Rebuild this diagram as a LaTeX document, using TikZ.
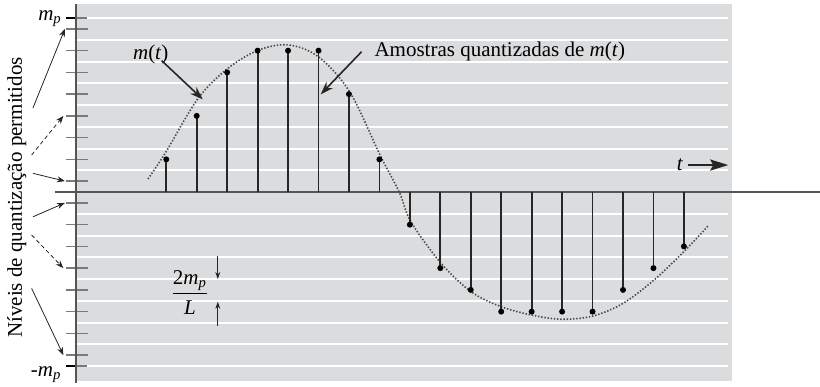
\documentclass[tikz,border=0pt]{standalone}
\usepackage{amsmath}
\usepackage{fontspec}
\setmainfont{Liberation Serif}
\usetikzlibrary{arrows.meta,positioning}
\definecolor{PanelGray}{HTML}{DBDCDE}
\definecolor{AxisGray}{HTML}{555555}
\definecolor{TickGray}{HTML}{7A7A7A}
\definecolor{InkDark}{HTML}{262626}

\begin{document}
\begin{tikzpicture}[x=10.875pt,y=10.875pt,
  font=\fontsize{10.5}{12}\selectfont,
  axisline/.style={AxisGray,line width=0.7pt},
  levtick/.style={TickGray,line width=0.8pt},
  stemline/.style={InkDark,line width=0.9pt},
  pointer/.style={-{Stealth[length=4pt,width=3pt]},InkDark,line width=0.4pt},
  gapdash/.style={dash pattern=on 2pt off 1.5pt},
  callout/.style={-{Stealth[length=6.5pt,width=4.5pt]},InkDark,line width=0.8pt},
  sizearrow/.style={-{Stealth[length=3.5pt,width=2.5pt]},InkDark,line width=0.45pt}]
\useasboundingbox (-3.494,-8.920) rectangle (34.207,8.828);
\fill[PanelGray] (0,-8.69) rectangle (30.15,8.64);
\foreach \k in {1,...,8} {
  \draw[white,line width=1pt] (0.05,\k) -- (30.0,\k);
  \draw[white,line width=1pt] (0.05,-\k) -- (30.0,-\k);
}
\foreach \k in {0,...,7} {
  \draw[levtick] (-0.46,\k+0.5) -- (0.55,\k+0.5);
  \draw[levtick] (-0.46,-\k-0.5) -- (0.55,-\k-0.5);
}
\draw[levtick] (0,8) -- (0.5,8);
\draw[levtick] (0,-8) -- (0.5,-8);
\draw[black,line width=1.3pt] (-0.46,8) -- (0,8);
\draw[black,line width=1.3pt] (-0.46,-8) -- (0,-8);
\draw[axisline] (0,8.64) -- (0,-8.78);
\draw[axisline] (-0.97,0) -- (34.2,0);

\node[anchor=base west] (mp) at (-2.06,7.88) {\textit{m}\textsubscript{\textit{p}}};
\node[anchor=base west] (mmp) at (-2.4,-8.49) {-\textit{m}\textsubscript{\textit{p}}};
\node[rotate=90] (levels) at (-2.72,-0.25) {Níveis de quantização permitidos};

\foreach \i/\sx/\sy/\tx/\ty/\lt in {1/-1.98/3.86/-0.51/7.5/solid, 2/-2.04/1.70/-0.58/3.5/gapdash,
    3/-1.98/0.86/-0.51/0.5/solid, 4/-1.98/-1.14/-0.51/-0.5/solid,
    5/-2.04/-1.98/-0.58/-3.5/gapdash, 6/-2.04/-4.43/-0.58/-7.5/solid} {
  \coordinate (from\i) at (\sx,\sy);
  \coordinate (lev\i) at (\tx,\ty);
  \draw[pointer,\lt] (from\i) -- (lev\i);
}

\draw[InkDark!85,line width=0.8pt,dash pattern=on 0.7pt off 0.9pt]
  plot[smooth,tension=0.55] coordinates {(3.31,0.6) (4.14,1.85) (5.61,4.3) (6.99,5.69)
  (8.41,6.53) (9.79,6.76) (11.17,6.2) (12.60,4.58) (13.98,1.7) (14.86,0) (15.40,-1.37)
  (16.78,-3.27) (18.16,-4.58) (19.54,-5.27) (20.97,-5.66) (22.34,-5.85) (23.77,-5.7)
  (25.15,-5.12) (26.57,-4.05) (27.95,-2.74) (29.06,-1.56)};

\foreach \n/\v in {0/1.5,1/3.5,2/5.5,3/6.5,4/6.5,5/6.5,6/4.5,7/1.5,8/-1.5,9/-3.5,
    10/-4.5,11/-5.5,12/-5.5,13/-5.5,14/-5.5,15/-4.5,16/-3.5,17/-2.5} {
  \draw[stemline] (4.15+1.4*\n,0) -- (4.15+1.4*\n,\v);
  \fill[black] (4.15+1.4*\n,\v) circle[radius=1.5pt];
}

\node[anchor=base west] (mlab) at (2.3,6.11) {\textit{m}(\textit{t})};
\coordinate (mcurve) at (5.83,4.26);
\draw[callout] (3.94,6.04) coordinate (mfrom) -- (mcurve);
\node[anchor=base west] (qlab) at (13.4,6.22) {Amostras quantizadas de \textit{m}(\textit{t})};
\coordinate (qstem) at (11.25,4.49);
\draw[callout] (13.13,6.45) coordinate (qfrom) -- (qstem);

\node[anchor=base west] (tlab) at (27.3,0.98) {\textit{t}};
\coordinate (tend) at (29.99,1.24);
\draw[-{Stealth[length=9pt,width=5.5pt,inset=1.5pt]},InkDark,line width=1.2pt]
  (28.15,1.24) coordinate (tfrom) -- (tend);

\node (delta) at (5.24,-4.6) {$\dfrac{\text{2}\textit{m}_{\textit{p}}}{\textit{L}}$};
\coordinate (upper) at (6.52,-4.0);
\coordinate (lower) at (6.52,-5.05);
\draw[sizearrow] (6.52,-2.95) coordinate (ufrom) -- (upper);
\draw[sizearrow] (6.52,-6.15) coordinate (lfrom) -- (lower);
\end{tikzpicture}
\end{document}
